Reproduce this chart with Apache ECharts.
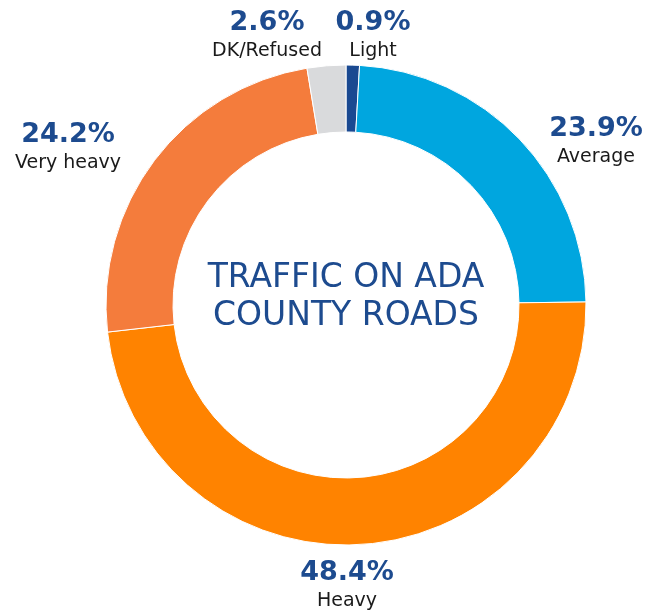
<!DOCTYPE html>
<html>
<head>
<meta charset="utf-8">
<script src="https://cdn.jsdelivr.net/npm/echarts@6/dist/echarts.min.js"></script>
<style>
  html, body { margin: 0; padding: 0; background: #fff; }
  #chart { width: 645px; height: 614px; }
</style>
</head>
<body>
<div id="chart"></div>
<script>
  // data, clockwise from 12 o'clock
  let names = ['Light', 'Average', 'Heavy', 'Very heavy', 'DK/Refused'];
  let values = [0.9, 23.9, 48.4, 24.2, 2.6];
  let colors = ['#1a4991', '#00a6df', '#ff8300', '#f47c3c', '#d9dadc'];

  // where each label block sits (centre of the two lines)
  let labelPos = [[373, 36], [596, 142], [347, 586], [68, 148], [267, 36]];

  let chart = echarts.init(document.getElementById('chart'));
  let data = [];
  for (let i = 0; i < names.length; i++) {
    data.push({ name: names[i], value: values[i], itemStyle: { color: colors[i] } });
  }

  let option = {
    animation: false,
    graphic: [{
      type: 'text',
      x: 346,
      y: 297,
      style: {
        text: 'TRAFFIC ON ADA\nCOUNTY ROADS',
        fill: '#1d4b8f',
        font: '33px "DejaVu Sans"',
        lineHeight: 38,
        align: 'center',
        verticalAlign: 'middle'
      }
    }],
    series: [{
      type: 'pie',
      center: [346, 305],
      radius: [173, 240],
      startAngle: 90,
      clockwise: true,
      itemStyle: { borderColor: '#fff', borderWidth: 1 },
      label: {
        position: 'outside',
        overflow: 'none',
        edgeDistance: 0,
        formatter: function (p) {
          return '{p|' + p.value.toFixed(1) + '%}\n{n|' + p.name + '}';
        },
        rich: {
          p: { fontFamily: 'DejaVu Sans', fontWeight: 'bold', fontSize: 27, color: '#1d4b8f', lineHeight: 31, align: 'center' },
          n: { fontFamily: 'DejaVu Sans', fontSize: 19, color: '#1a1a1a', lineHeight: 27, align: 'center' }
        }
      },
      labelLine: { show: false },
      labelLayout: function (params) {
        let pos = labelPos[params.dataIndex];
        return { x: pos[0], y: pos[1], align: 'center', verticalAlign: 'middle' };
      },
      data: data
    }]
  };
  chart.setOption(option);
</script>
</body>
</html>
